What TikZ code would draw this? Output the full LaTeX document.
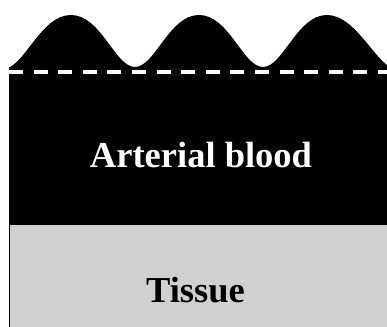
\documentclass[tikz,border=0pt]{standalone}
\usepackage{fontspec}
\setmainfont{Liberation Serif}
\definecolor{tissuegray}{RGB}{208,208,208}
\tikzset{
  labeltext/.style={font=\bfseries\fontsize{36.5}{42}\selectfont, anchor=base, inner sep=0pt},
  wavefill/.style={fill=black},
  membrane/.style={draw=white, line width=3.5pt, dash pattern=on 14pt off 10.6pt},
}
\begin{document}
\begin{tikzpicture}[x=1pt,y=1pt]
\useasboundingbox (0,0) rectangle (387,326);
% tissue
\filldraw[fill=tissuegray, draw=black, line width=1pt] (9,-5) rectangle (392,101);
% arterial blood with wavy top
\begin{scope}
\clip (9,0) rectangle (387,326);
\fill[wavefill] (0,101) -- (0,257) -- (3,257)
  .. controls (24,257) and (40,311) .. (71,311)
  .. controls (101,311) and (115,259) .. (135,259)
  .. controls (155,259) and (169,311) .. (199,311)
  .. controls (229,311) and (243,259) .. (263,259)
  .. controls (283,259) and (297,311) .. (327,311)
  .. controls (358,311) and (378,255) .. (400,255)
  -- (400,101) -- cycle;
\end{scope}
% dashed membrane
\draw[membrane] (9,254) -- (387,254);
% labels
\node[labeltext, text=white] (blood) at (201,158) {Arterial blood};
\node[labeltext, text=black] (tissue) at (195.5,24) {Tissue};
\end{tikzpicture}
\end{document}
